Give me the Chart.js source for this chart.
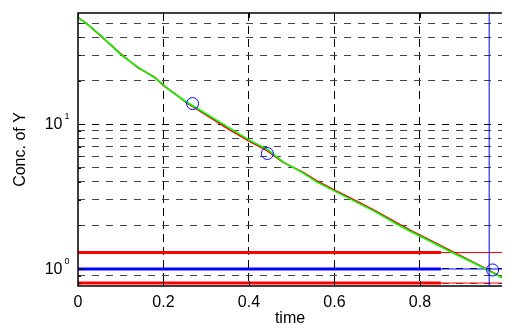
<!DOCTYPE html>
<html>
<head>
<meta charset="utf-8">
<script src="https://cdn.jsdelivr.net/npm/chart.js@4/dist/chart.umd.min.js"></script>
<style>
  body { margin: 0; background: #fff; }
</style>
</head>
<body>
<canvas id="myChart" width="509" height="329"></canvas>
<script>
// valores
const tempo = [0, 0.02, 0.055, 0.10, 0.14, 0.18, 0.20, 0.225, 0.255, 0.29, 0.35, 0.40, 0.443, 0.48, 0.527, 0.558, 0.604, 0.65, 0.696, 0.742, 0.784, 0.81, 0.85, 0.88, 0.926, 0.957, 0.992];
const concVerde = [54.4, 49.5, 40.6, 30.3, 24.8, 20.9, 18.7, 16.3, 14.2, 12.3, 9.6, 7.8, 6.7, 5.5, 4.6, 4.0, 3.41, 2.91, 2.48, 2.07, 1.78, 1.63, 1.42, 1.28, 1.10, 0.99, 0.87];
const concVermelho = [54.6, 49.8, 40.3, 30.6, 24.6, 21.1, 18.5, 16.4, 14.0, 12.1, 9.35, 7.65, 6.55, 5.45, 4.65, 4.08, 3.46, 2.96, 2.52, 2.11, 1.81, 1.66, 1.44, 1.30, 1.11, 0.995, 0.875];

const circT = [0.268, 0.443, 0.970];
const circY = [13.9, 6.28, 0.985];

const limSup = 1.3;
const alvo = 1.0;
const limInf = 0.8;
const tMarca = 0.962;
const tGrosso = 0.849;

const xMin = 0, xMax = 0.992;
const yMin = 0.763, yMax = 58.7;
const xTicks = [0, 0.2, 0.4, 0.6, 0.8];
const yGrid = [0.8, 0.9, 1, 2, 3, 4, 5, 6, 7, 8, 9, 10, 20, 30, 40, 50];
const yRotulos = [1, 10];
const yExpoentes = ['0', '1'];

function pares(xs, ys) {
  return xs.map((x, i) => ({x: x, y: ys[i]}));
}
function horizontal(y, x0, x1) {
  return [{x: x0, y: y}, {x: x1, y: y}];
}

// eixos estilo matlab: caixa, ticks para dentro e rotulos 10^n
const eixosPlugin = {
  id: 'eixos',
  afterDraw(chart) {
    const ctx = chart.ctx;
    const a = chart.chartArea;
    const xs = chart.scales.x, ys = chart.scales.y;
    ctx.save();
    ctx.strokeStyle = '#000';
    ctx.lineWidth = 1.5;
    ctx.beginPath();
    ctx.moveTo(a.right, a.top);
    ctx.lineTo(a.left, a.top);
    ctx.lineTo(a.left, a.bottom);
    ctx.lineTo(a.right, a.bottom);
    ctx.stroke();

    ctx.lineWidth = 1;
    ctx.beginPath();
    xTicks.forEach(v => {
      const px = Math.round(xs.getPixelForValue(v)) + 0.5;
      ctx.moveTo(px, a.bottom);
      ctx.lineTo(px, a.bottom - 5);
      ctx.moveTo(px, a.top);
      ctx.lineTo(px, a.top + 5);
    });
    yGrid.forEach(v => {
      const py = Math.round(ys.getPixelForValue(v)) + 0.5;
      const len = yRotulos.includes(v) ? 5 : 3;
      ctx.moveTo(a.left, py);
      ctx.lineTo(a.left + len, py);
    });
    ctx.stroke();

    ctx.fillStyle = '#000';
    yRotulos.forEach((v, i) => {
      const py = ys.getPixelForValue(v);
      ctx.font = '16px "Liberation Sans", Arial, sans-serif';
      ctx.textAlign = 'right';
      ctx.textBaseline = 'middle';
      ctx.fillText('10', 62.5, py + 0.5);
      ctx.font = '9px "Liberation Sans", Arial, sans-serif';
      ctx.textAlign = 'left';
      ctx.textBaseline = 'alphabetic';
      ctx.fillText(yExpoentes[i], 64.5, py - 5);
    });
    ctx.restore();
  }
};

let canvas = document.getElementById('myChart');
let ctx = canvas.getContext('2d');

let chart = new Chart(ctx, {
  type: 'line',
  data: {
    datasets: [
      {
        data: pares(circT, circY),
        showLine: false,
        pointStyle: 'circle',
        pointRadius: 6,
        pointBorderColor: '#0000ff',
        pointBackgroundColor: 'rgba(0,0,0,0)',
        pointBorderWidth: 1,
        order: 0
      },
      {
        data: [{x: tMarca, y: yMin}, {x: tMarca, y: yMax}],
        borderColor: '#0000ff',
        borderWidth: 1,
        pointRadius: 0,
        order: 1
      },
      {
        data: pares(tempo, concVerde),
        borderColor: '#00ff00',
        borderWidth: 1.6,
        pointRadius: 0,
        order: 2
      },
      {
        data: pares(tempo, concVermelho),
        borderColor: '#ff0000',
        borderWidth: 1.6,
        pointRadius: 0,
        order: 3
      },
      {
        data: horizontal(limSup, 0, tGrosso),
        borderColor: '#ff0000', borderWidth: 3, pointRadius: 0, order: 4
      },
      {
        data: horizontal(limSup, 0, xMax),
        borderColor: '#ff0000', borderWidth: 1, pointRadius: 0, order: 4
      },
      {
        data: horizontal(alvo, 0, tGrosso),
        borderColor: '#0000ff', borderWidth: 3, pointRadius: 0, order: 4
      },
      {
        data: horizontal(alvo, 0, xMax),
        borderColor: '#0000ff', borderWidth: 1, pointRadius: 0, order: 4
      },
      {
        data: horizontal(limInf, 0, tGrosso),
        borderColor: '#ff0000', borderWidth: 3, pointRadius: 0, order: 4
      },
      {
        data: horizontal(limInf, 0, xMax),
        borderColor: '#ff0000', borderWidth: 1, pointRadius: 0, order: 4
      }
    ]
  },
  options: {
    responsive: false,
    animation: false,
    events: [],
    layout: { padding: { top: 13, right: 0, left: 0, bottom: 0 } },
    plugins: { legend: { display: false }, tooltip: { enabled: false } },
    scales: {
      x: {
        type: 'linear',
        min: xMin,
        max: xMax,
        afterFit(scale) { scale.height = 43; },
        afterBuildTicks(scale) { scale.ticks = xTicks.map(v => ({value: v})); },
        ticks: {
          color: '#000',
          padding: 7,
          font: { size: 16, family: '"Liberation Sans", Arial, sans-serif' },
          callback: v => String(v)
        },
        grid: {
          drawTicks: false,
          color: c => (c.tick && c.tick.value === 0) ? 'rgba(0,0,0,0)' : '#000',
          lineWidth: 1
        },
        border: { display: false, dash: [8, 5] },
        title: {
          display: true,
          text: 'time',
          color: '#000',
          padding: { top: 0, bottom: 1 },
          font: { size: 16, family: '"Liberation Sans", Arial, sans-serif' }
        }
      },
      y: {
        type: 'logarithmic',
        min: yMin,
        max: yMax,
        afterFit(scale) { scale.width = 78; },
        afterBuildTicks(scale) { scale.ticks = yGrid.map(v => ({value: v})); },
        ticks: { display: false },
        grid: {
          drawTicks: false,
          color: c => (c.tick && yRotulos.includes(c.tick.value)) ? '#000' : '#444',
          lineWidth: 1
        },
        border: { display: false, dash: [7, 7] },
        title: {
          display: true,
          text: 'Conc. of Y',
          color: '#000',
          padding: { top: 11, bottom: 0 },
          font: { size: 16, family: '"Liberation Sans", Arial, sans-serif' }
        }
      }
    }
  },
  plugins: [eixosPlugin]
});
</script>
</body>
</html>
